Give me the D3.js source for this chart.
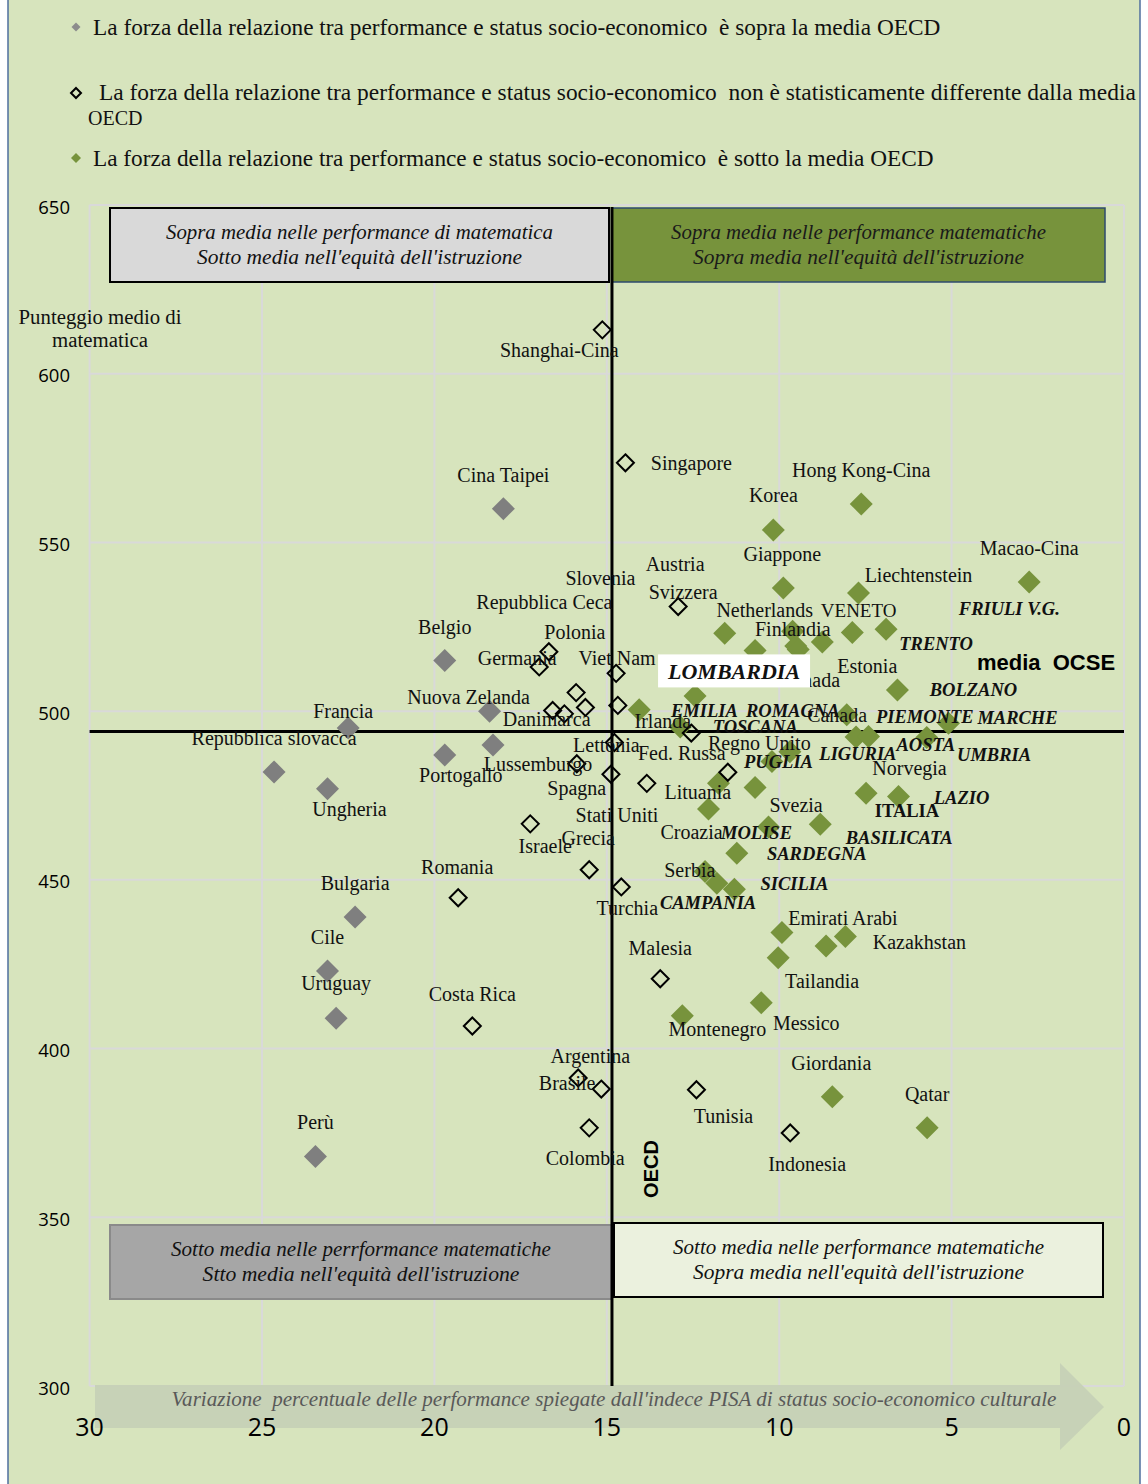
<!DOCTYPE html>
<html>
<head>
<meta charset="utf-8">
<script src="https://cdn.jsdelivr.net/npm/d3@7"></script>
<style>
html,body{margin:0;padding:0;background:#ffffff;}
svg{display:block;}
</style>
</head>
<body>
<svg id="chart" width="1148" height="1484"></svg>
<script>
// ---------------- DATA ----------------
const xTicks = [30, 25, 20, 15, 10, 5, 0];
const yTicks = [650, 600, 550, 500, 450, 400, 350, 300];
const oecdEscs = 14.85;   // OECD average strength (% variance explained)
const oecdMath = 494;     // OECD average maths score

// Strength of relationship above OECD average (grey)
const aboveNames = ["Cina Taipei","Belgio","Nuova Zelanda","Francia","Repubblica slovacca","Ungheria","Portogallo","Lussemburgo","Bulgaria","Cile","Uruguay","Perù"];
const aboveEscs  = [18.0, 19.7, 18.4, 22.5, 24.65, 23.1, 19.7, 18.3, 22.3, 23.1, 22.85, 23.45];
const aboveMath  = [560, 515, 500, 495, 482, 477, 487, 490, 439, 423, 409, 368];

// Not statistically different from OECD average (open)
const sameNames = ["Shanghai-Cina","Singapore","Svizzera","Polonia","Germania","Viet Nam","Austria","Slovenia","Danimarca","Repubblica Ceca","Irlanda","Lettonia","Regno Unito","Fed. Russa","Lituania","Spagna","Stati Uniti","Israele","Grecia","Turchia","Romania","Malesia","Costa Rica","Brasile","Argentina","Tunisia","Colombia","Indonesia"];
const sameEscs  = [15.13, 14.46, 12.93, 16.68, 16.96, 14.73, 15.89, 15.62, 16.57, 16.23, 14.68, 14.78, 12.55, 11.49, 13.84, 15.87, 14.88, 17.22, 15.51, 14.58, 19.31, 13.45, 18.9, 15.83, 15.16, 12.4, 15.51, 9.68];
const sameMath  = [613, 573.6, 531, 517.6, 513.1, 511.2, 505.5, 501.1, 500.2, 499.2, 501.7, 490.7, 493.5, 481.9, 478.6, 484.4, 481.3, 466.6, 453, 447.9, 444.7, 420.7, 406.7, 391.3, 388, 387.8, 376.5, 375];

// Strength of relationship below OECD average (green)
const belowNames = ["Hong Kong-Cina","Korea","Macao-Cina","Giappone","Liechtenstein","Netherlands","Veneto","Finlandia","Canada","Estonia","Friuli V.G.","Trento","Lombardia","Australia","Bolzano","Piemonte","Umbria","Norvegia","Valle d'Aosta","Marche","Emilia Romagna","Toscana","Liguria","Italia","Puglia","Svezia","Abruzzo","Lazio","Croazia","Molise","Basilicata","Sardegna","Campania","Serbia","Sicilia","Emirati Arabi","Kazakhstan","Calabria","Tailandia","Messico","Montenegro","Giordania","Qatar"];
const belowEscs  = [7.62, 10.17, 2.75, 9.88, 7.7, 11.58, 9.61, 9.52, 9.45, 8.75, 7.88, 6.9, 10.7, 12.44, 6.57, 8.04, 7.77, 7.41, 5.72, 5.09, 14.06, 12.87, 9.69, 10.21, 11.76, 10.7, 7.48, 6.54, 12.05, 10.31, 8.81, 11.23, 12.15, 11.81, 11.3, 9.92, 8.08, 8.64, 10.03, 10.52, 12.81, 8.46, 5.71];
const belowMath  = [561.4, 553.7, 538.3, 536.5, 535, 523.1, 523.7, 519.3, 518.3, 520.5, 523.3, 524.3, 518, 504.5, 506.3, 498.9, 492.3, 492.5, 492.2, 496.4, 500.4, 495.3, 488, 485.1, 478.6, 477.4, 475.7, 474.7, 471, 465.7, 466.5, 457.9, 452.5, 449, 447.2, 434.4, 433.2, 430.4, 426.9, 413.6, 409.7, 385.7, 376.5];

const legendTexts = [
  "La forza della relazione tra performance e status socio-economico  è sopra la media OECD",
  "La forza della relazione tra performance e status socio-economico  non è statisticamente differente dalla media",
  "OECD",
  "La forza della relazione tra performance e status socio-economico  è sotto la media OECD"
];
const quadrantTexts = {
  tl: ["Sopra media nelle performance di matematica", "Sotto media nell'equità dell'istruzione"],
  tr: ["Sopra media nelle performance matematiche", "Sopra media nell'equità dell'istruzione"],
  bl: ["Sotto media nelle perrformance matematiche", "Stto media nell'equità dell'istruzione"],
  br: ["Sotto media nelle performance matematiche", "Sopra media nell'equità dell'istruzione"]
};
const yTitle = ["Punteggio medio di", "matematica"];
const xTitle = "Variazione  percentuale delle performance spiegate dall'indece PISA di status socio-economico culturale";

// ---------------- LAYOUT (label offsets in px, relative to point) ----------------
const labelLayout = [
  // [text, point, dx, dy, class]
  ["Cina Taipei","Cina Taipei",0,-34,"c"],["Belgio","Belgio",0,-34,"c"],["Nuova Zelanda","Nuova Zelanda",-21,-14,"c"],
  ["Francia","Francia",-5,-17,"c"],["Repubblica slovacca","Repubblica slovacca",0,-34,"c"],["Ungheria","Ungheria",22,20,"c"],
  ["Portogallo","Portogallo",16,20,"c"],["Lussemburgo","Lussemburgo",45,19,"c"],["Bulgaria","Bulgaria",0,-34,"c"],
  ["Cile","Cile",0,-34,"c"],["Uruguay","Uruguay",0,-35,"c"],["Perù","Perù",0,-35,"c"],
  ["Shanghai-Cina","Shanghai-Cina",-43,20,"c"],["Singapore","Singapore",66,0,"c"],["Svizzera","Svizzera",5,-15,"c"],
  ["Polonia","Polonia",26,-20,"c"],["Germania","Germania",-22,-9,"c"],["Viet Nam","Viet Nam",1,-15,"c"],
  ["Austria","Austria",99,-129,"c"],["Slovenia","Slovenia",15,-129,"c"],["Danimarca","Danimarca",-6,9,"c"],
  ["Repubblica Ceca","Repubblica Ceca",-20,-112,"c"],["Irlanda","Irlanda",45,16,"c"],["Lettonia","Lettonia",-8,2,"c"],
  ["Regno Unito","Regno Unito",68,10,"c"],["Fed. Russa","Fed. Russa",-46,-19,"c"],["Lituania","Lituania",51,9,"c"],
  ["Spagna","Spagna",0,24,"c"],["Stati Uniti","Stati Uniti",6,41,"c"],["Israele","Israele",15,22,"c"],
  ["Grecia","Grecia",-1,-32,"c"],["Turchia","Turchia",6,21,"c"],["Romania","Romania",-1,-31,"c"],
  ["Malesia","Malesia",0,-31,"c"],["Costa Rica","Costa Rica",0,-32,"c"],["Brasile","Brasile",-11,5,"c"],
  ["Argentina","Argentina",-11,-33,"c"],["Tunisia","Tunisia",27,26,"c"],["Colombia","Colombia",-4,30,"c"],
  ["Indonesia","Indonesia",17,31,"c"],
  ["Hong Kong-Cina","Hong Kong-Cina",0,-34,"c"],["Korea","Korea",0,-35,"c"],["Macao-Cina","Macao-Cina",0,-34,"c"],
  ["Giappone","Giappone",-1,-34,"c"],["Liechtenstein","Liechtenstein",60,-18,"c"],["Netherlands","Netherlands",40,-23,"c"],
  ["VENETO","Veneto",66,-21,"p"],["FRIULI V.G.","Friuli V.G.",157,-24,"r"],["Finlandia","Finlandia",-3,-17,"c"],
  ["TRENTO","Trento",50,15,"r"],["Estonia","Estonia",45,24,"c"],["Canada","Canada",12,31,"c"],
  ["BOLZANO","Bolzano",76,0,"r"],["EMILIA  ROMAGNA","Emilia Romagna",116,1,"r"],["Canada","Canada",39,66,"c"],
  ["PIEMONTE","Piemonte",78,2,"r"],["MARCHE","Marche",69,-5,"r"],["TOSCANA","Toscana",75,0,"r"],
  ["AOSTA","Valle d'Aosta",-1,8,"r"],["LIGURIA","Liguria",68,2,"r"],["UMBRIA","Umbria",138,18,"r"],
  ["Norvegia","Norvegia",41,32,"c"],["PUGLIA","Puglia",60,-21,"r"],["ITALIA","Italia",135,50,"i"],
  ["LAZIO","Lazio",63,1,"r"],["Svezia","Svezia",41,18,"c"],["Croazia","Croazia",-17,23,"c"],
  ["MOLISE","Molise",-12,6,"r"],["BASILICATA","Basilicata",79,14,"r"],["SARDEGNA","Sardegna",80,1,"r"],
  ["Serbia","Serbia",-27,-13,"c"],["SICILIA","Sicilia",60,-5,"r"],["CAMPANIA","Campania",3,32,"r"],
  ["Emirati Arabi","Emirati Arabi",61,-14,"c"],["Kazakhstan","Kazakhstan",74,5,"c"],["Tailandia","Tailandia",44,23,"c"],
  ["Messico","Messico",45,20,"c"],["Montenegro","Montenegro",35,13,"c"],["Giordania","Giordania",-1,-34,"c"],
  ["Qatar","Qatar",0,-34,"c"]
];

// ---------------- DRAW ----------------
const W = 1148, H = 1484;
const SERIF = "'Liberation Serif', 'Times New Roman', serif";
const SANS = "'Open Sans', 'Liberation Sans', sans-serif";
const BG = "#d7e4bd";
const GREEN = "#77933c";
const GREY = "#7f7f7f";

const svg = d3.select("#chart");
const x = d3.scaleLinear().domain([30, 0]).range([89.6, 1124]);
const y = d3.scaleLinear().domain([300, 650]).range([1386, 205]);

function fit(sel, w) {
  const n = sel.node();
  const cur = n.getComputedTextLength();
  const fs = parseFloat(sel.attr("font-size"));
  if (cur > 0) sel.attr("font-size", (fs * w / cur).toFixed(2));
  return sel;
}
function diamond(r) { return `M0,${-r}L${r},0L0,${r}L${-r},0Z`; }

// frame
svg.append("rect").attr("x", 8).attr("y", -4).attr("width", 1132).attr("height", H + 8)
  .attr("fill", BG).attr("stroke", "#4f6f9f").attr("stroke-width", 1.5);

// gridlines
const grid = svg.append("g");
grid.selectAll("line.v").data(xTicks).join("line")
  .attr("x1", d => x(d)).attr("x2", d => x(d)).attr("y1", y(650)).attr("y2", y(300))
  .attr("stroke", "#d9d9d9").attr("stroke-width", 2);
grid.selectAll("line.h").data(yTicks).join("line")
  .attr("x1", x(30)).attr("x2", x(0)).attr("y1", d => y(d)).attr("y2", d => y(d))
  .attr("stroke", "#d9d9d9").attr("stroke-width", 2);

// arrow along x axis
svg.append("path")
  .attr("d", "M95,1385 L1060,1385 L1060,1363 L1104,1407 L1060,1450 L1060,1428 L95,1428 Z")
  .attr("fill", "#c6d1b6").attr("opacity", 0.95);
const xt = svg.append("text").attr("x", 614).attr("y", 1399).attr("text-anchor", "middle")
  .attr("dominant-baseline", "central").attr("font-family", SERIF).attr("font-style", "italic")
  .attr("font-size", 20).attr("fill", "#595959").style("white-space", "pre").text(xTitle);
fit(xt, 885);

// axes tick labels
svg.append("g").selectAll("text").data(xTicks).join("text")
  .attr("x", d => x(d)).attr("y", 1426).attr("text-anchor", "middle").attr("dominant-baseline", "central")
  .attr("font-family", SANS).attr("font-size", 25).attr("fill", "#000").text(d => d);
svg.append("g").selectAll("text").data(yTicks).join("text")
  .attr("x", 70).attr("y", d => y(d) + 1).attr("text-anchor", "end").attr("dominant-baseline", "central")
  .attr("font-family", SANS).attr("font-size", 18.5).attr("fill", "#000").text(d => d);

// y title
const yt0 = svg.append("text").attr("x", 100).attr("y", 317).attr("text-anchor", "middle")
  .attr("dominant-baseline", "central").attr("font-family", SERIF).attr("font-size", 19).attr("fill", "#111").text(yTitle[0]);
fit(yt0, 163);
svg.append("text").attr("x", 100).attr("y", 340).attr("text-anchor", "middle")
  .attr("dominant-baseline", "central").attr("font-family", SERIF).attr("font-size", yt0.attr("font-size"))
  .attr("fill", "#111").text(yTitle[1]);

// quadrant boxes
function qbox(x0, y0, w, h, fill, stroke, sw, lines, widths, tc) {
  svg.append("rect").attr("x", x0).attr("y", y0).attr("width", w).attr("height", h)
    .attr("fill", fill).attr("stroke", stroke).attr("stroke-width", sw);
  lines.forEach((t, i) => {
    const s = svg.append("text").attr("x", x0 + w / 2).attr("y", y0 + 24 + i * 25)
      .attr("text-anchor", "middle").attr("dominant-baseline", "central")
      .attr("font-family", SERIF).attr("font-style", "italic").attr("font-size", 19).attr("fill", tc).text(t);
    fit(s, widths[i]);
  });
}
qbox(110, 208, 499, 74, "#d9d9d9", "#000", 2, quadrantTexts.tl, [387, 325], "#111");
qbox(612, 208, 493, 74, GREEN, "#2e4a6e", 1.5, quadrantTexts.tr, [375, 331], "#1a1a1a");
qbox(110, 1225, 502, 74, "#a6a6a6", "#8a8a8a", 2, quadrantTexts.bl, [380, 317], "#111");
qbox(614, 1223, 489, 74, "#ebf1de", "#000", 2, quadrantTexts.br, [371, 331], "#111");

// OECD mean lines
svg.append("line").attr("x1", x(30)).attr("x2", x(0)).attr("y1", y(oecdMath)).attr("y2", y(oecdMath))
  .attr("stroke", "#000").attr("stroke-width", 3);
svg.append("line").attr("x1", x(oecdEscs)).attr("x2", x(oecdEscs)).attr("y1", 207).attr("y2", y(300))
  .attr("stroke", "#000").attr("stroke-width", 3);

// points
const above = aboveNames.map((n, i) => ({ name: n, e: aboveEscs[i], m: aboveMath[i] }));
const same = sameNames.map((n, i) => ({ name: n, e: sameEscs[i], m: sameMath[i] }));
const below = belowNames.map((n, i) => ({ name: n, e: belowEscs[i], m: belowMath[i] }));
const all = new Map([...above, ...same, ...below].map(d => [d.name, d]));

svg.append("g").selectAll("path").data(above).join("path")
  .attr("d", diamond(11.5)).attr("transform", d => `translate(${x(d.e)},${y(d.m)})`).attr("fill", GREY);
svg.append("g").selectAll("path").data(below).join("path")
  .attr("d", diamond(11.5)).attr("transform", d => `translate(${x(d.e)},${y(d.m)})`).attr("fill", GREEN);
svg.append("g").selectAll("path").data(same).join("path")
  .attr("d", diamond(8.5)).attr("transform", d => `translate(${x(d.e)},${y(d.m)})`)
  .attr("fill", "none").attr("stroke", "#000").attr("stroke-width", 2);

// labels
const styles = {
  c: { size: 20, weight: "normal", style: "normal" },
  p: { size: 19, weight: "normal", style: "normal" },
  r: { size: 18.5, weight: "bold", style: "italic" },
  i: { size: 18.5, weight: "bold", style: "normal" }
};
const labs = labelLayout.map(([t, p, dx, dy, c]) => ({ t, p: all.get(p), dx, dy, c }));
svg.append("g").selectAll("text").data(labs).join("text")
  .attr("x", d => x(d.p.e) + d.dx).attr("y", d => y(d.p.m) + d.dy)
  .attr("text-anchor", "middle").attr("dominant-baseline", "central")
  .attr("font-family", SERIF).attr("font-size", d => styles[d.c].size)
  .attr("font-weight", d => styles[d.c].weight).attr("font-style", d => styles[d.c].style)
  .attr("fill", "#111").style("white-space", "pre").text(d => d.t);

// LOMBARDIA callout
const lomb = all.get("Lombardia");
svg.append("rect").attr("x", x(lomb.e) - 97).attr("y", y(lomb.m) + 4).attr("width", 152).attr("height", 33).attr("fill", "#fff");
svg.append("text").attr("x", x(lomb.e) - 21).attr("y", y(lomb.m) + 21).attr("text-anchor", "middle")
  .attr("dominant-baseline", "central").attr("font-family", SERIF).attr("font-weight", "bold")
  .attr("font-style", "italic").attr("font-size", 22).attr("fill", "#111").text("LOMBARDIA");

// media OCSE & OECD annotations
svg.append("text").attr("x", 1046).attr("y", 662).attr("text-anchor", "middle").attr("dominant-baseline", "central")
  .attr("font-family", "'Liberation Sans', sans-serif").attr("font-weight", "bold").attr("font-size", 22)
  .style("white-space", "pre").attr("fill", "#000").text("media  OCSE");
svg.append("text").attr("transform", "translate(651,1169) rotate(-90)").attr("text-anchor", "middle")
  .attr("dominant-baseline", "central").attr("font-family", "'Liberation Sans', sans-serif").attr("font-weight", "bold")
  .attr("font-size", 20).attr("fill", "#000").text("OECD");

// legend
svg.append("path").attr("d", diamond(4.5)).attr("transform", "translate(76,27)").attr("fill", "#8c8c8c");
svg.append("path").attr("d", diamond(5)).attr("transform", "translate(76,93)").attr("fill", "none").attr("stroke", "#000").attr("stroke-width", 2);
svg.append("path").attr("d", diamond(5)).attr("transform", "translate(76,158)").attr("fill", GREEN);
const legPos = [[93, 27, 848], [99, 92, 1037], [88, 118, 60], [93, 158, 841]];
legendTexts.forEach((t, i) => {
  const s = svg.append("text").attr("x", legPos[i][0]).attr("y", legPos[i][1]).attr("dominant-baseline", "central")
    .attr("font-family", SERIF).attr("font-size", 20).attr("fill", "#111").style("white-space", "pre").text(t);
  if (i !== 2) fit(s, legPos[i][2]);
});
</script>
</body>
</html>
